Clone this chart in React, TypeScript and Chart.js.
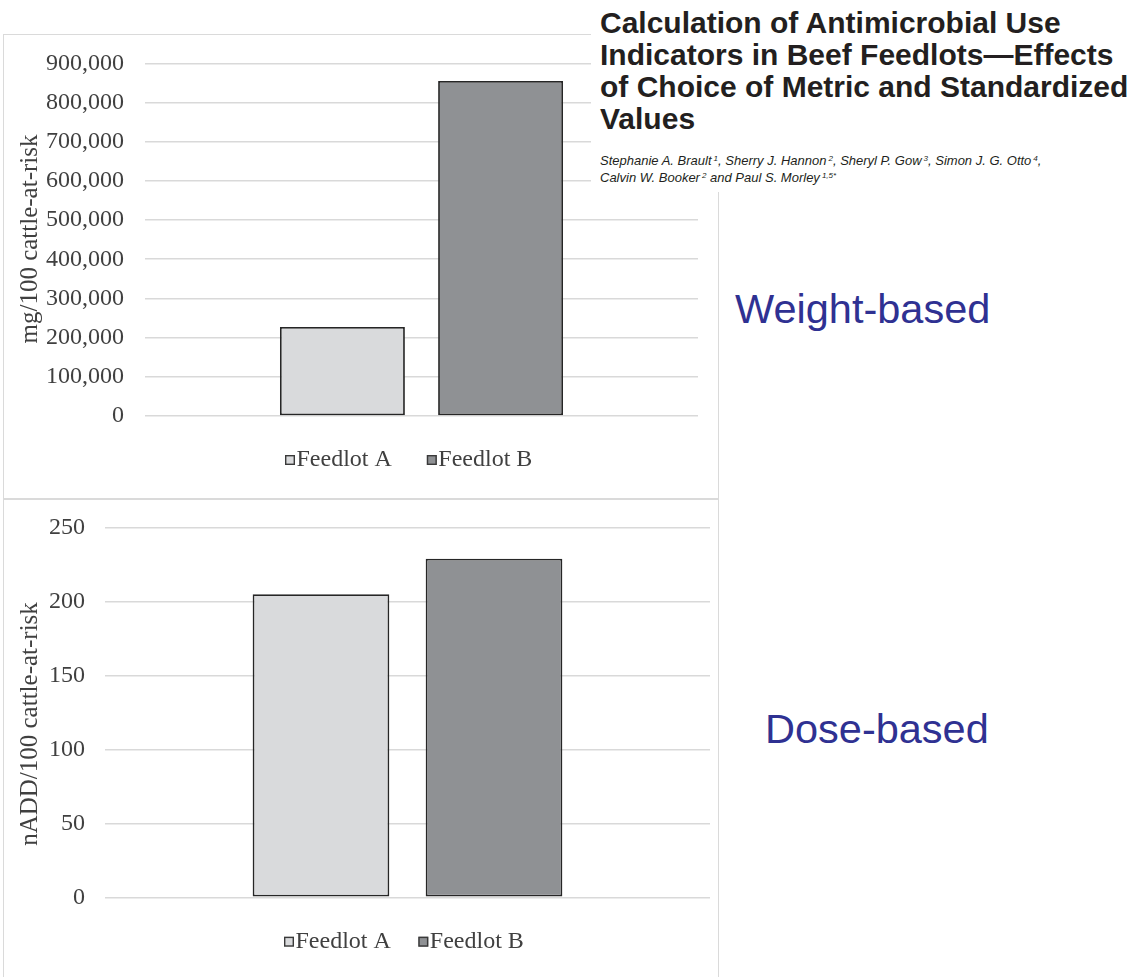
import { useEffect, useRef } from "react";
import { Chart, registerables } from "chart.js";

Chart.register(...registerables);

// ---- data ----
const feedlots = ["Feedlot A", "Feedlot B"];
const weightBasedUse = [227000, 855000]; // mg/100 cattle-at-risk
const doseBasedUse = [205, 229]; // nADD/100 cattle-at-risk
const weightTicks = [0, 100000, 200000, 300000, 400000, 500000, 600000, 700000, 800000, 900000];
const doseTicks = [0, 50, 100, 150, 200, 250];
const barFills = ["#d9dadc", "#8f9194"];

const SERIF = "'Liberation Serif', 'Times New Roman', serif";
const SANS = "'Liberation Sans', Arial, Helvetica, sans-serif";
const INK = "#404040";
const GRID = "#d9d9d9";

// Rotated y-axis caption drawn at a fixed spot on the canvas
const sideTitle = {
  id: "sideTitle",
  afterDraw(chart: any, _args: any, opts: any) {
    if (!opts || !opts.text) return;
    const { ctx } = chart;
    ctx.save();
    ctx.translate(opts.x, opts.y);
    ctx.rotate(-Math.PI / 2);
    ctx.font = `${opts.size}px ${SERIF}`;
    ctx.fillStyle = INK;
    ctx.textAlign = "center";
    ctx.textBaseline = "alphabetic";
    ctx.fillText(opts.text, 0, 0);
    ctx.restore();
  },
};

// Square-swatch legend laid out in a single row
const swatchLegend = {
  id: "swatchLegend",
  afterDraw(chart: any, _args: any, opts: any) {
    if (!opts || opts.x == null) return;
    const { ctx } = chart;
    const box = 10;
    ctx.save();
    ctx.font = `${opts.size}px ${SERIF}`;
    ctx.textBaseline = "middle";
    ctx.textAlign = "left";
    let x = opts.x;
    chart.data.datasets.forEach((ds: any) => {
      ctx.fillStyle = ds.backgroundColor;
      ctx.fillRect(x, opts.y - box / 2, box, box);
      ctx.strokeStyle = "#3a3a3a";
      ctx.lineWidth = 1.4;
      ctx.strokeRect(x + 0.7, opts.y - box / 2 + 0.7, box - 1.4, box - 1.4);
      ctx.fillStyle = INK;
      ctx.fillText(ds.label, x + box + 1.5, opts.y);
      x += box + 1.5 + ctx.measureText(ds.label).width + opts.gap;
    });
    ctx.restore();
  },
};

type PanelSpec = {
  values: number[];
  ticks: number[];
  title: string;
  titleX: number;
  titleY: number;
  axisWidth: number;
  tickGap: number;
  padding: { left: number; right: number; top: number; bottom: number };
  legendX: number;
  legendY: number;
  legendGap: number;
};

function buildChart(canvas: HTMLCanvasElement, spec: PanelSpec) {
  const ticks = spec.ticks;
  return new Chart(canvas, {
    type: "bar",
    data: {
      labels: [""],
      datasets: feedlots.map((name, i) => ({
        label: name,
        data: [spec.values[i]],
        backgroundColor: barFills[i],
        borderColor: "#262626",
        borderWidth: 1.8,
        borderSkipped: false,
        categoryPercentage: 0.572,
        barPercentage: 0.79,
      })),
    },
    options: {
      responsive: false,
      animation: false,
      events: [],
      layout: { padding: spec.padding },
      scales: {
        x: { display: false },
        y: {
          min: ticks[0],
          max: ticks[ticks.length - 1],
          afterBuildTicks: (scale: any) => {
            scale.ticks = ticks.map((v) => ({ value: v }));
          },
          afterFit: (scale: any) => {
            scale.width = spec.axisWidth;
          },
          ticks: {
            padding: 0,
            color: INK,
            font: { family: SERIF, size: 24 },
            callback: (v: any) => Number(v).toLocaleString("en-US"),
          },
          grid: {
            color: GRID,
            lineWidth: 1.6,
            drawTicks: true,
            tickLength: spec.tickGap,
            tickColor: "rgba(0,0,0,0)",
          },
          border: { display: false },
        },
      },
      plugins: {
        legend: { display: false },
        tooltip: { enabled: false },
        sideTitle: { text: spec.title, x: spec.titleX, y: spec.titleY, size: 25 },
        swatchLegend: { x: spec.legendX, y: spec.legendY, gap: spec.legendGap, size: 24 },
      } as any,
    },
    plugins: [sideTitle, swatchLegend],
  } as any);
}

export default function App() {
  const weightRef = useRef<HTMLCanvasElement>(null);
  const doseRef = useRef<HTMLCanvasElement>(null);

  useEffect(() => {
    const top = buildChart(weightRef.current!, {
      values: weightBasedUse,
      ticks: weightTicks,
      title: "mg/100 cattle-at-risk",
      titleX: 37,
      titleY: 205,
      axisWidth: 145,
      tickGap: 21,
      padding: { left: 0, right: 22, top: 29.3, bottom: 84 },
      legendX: 285,
      legendY: 426,
      legendGap: 35,
    });
    const bottom = buildChart(doseRef.current!, {
      values: doseBasedUse,
      ticks: doseTicks,
      title: "nADD/100 cattle-at-risk",
      titleX: 37,
      titleY: 225,
      axisWidth: 105,
      tickGap: 20,
      padding: { left: 0, right: 10, top: 28.7, bottom: 79.7 },
      legendX: 284,
      legendY: 442.7,
      legendGap: 27.5,
    });
    return () => {
      top.destroy();
      bottom.destroy();
    };
  }, []);

  const sup: React.CSSProperties = {
    fontSize: "0.62em",
    position: "relative",
    top: "-0.5em",
    marginLeft: 2,
  };

  return (
    <div
      style={{
        position: "absolute",
        left: 0,
        top: 0,
        width: 1135,
        height: 977,
        overflow: "hidden",
        background: "#fff",
      }}
    >
      <canvas
        ref={weightRef}
        width={720}
        height={466}
        style={{ position: "absolute", left: 0, top: 34, width: 720, height: 466 }}
      />
      <canvas
        ref={doseRef}
        width={720}
        height={478}
        style={{ position: "absolute", left: 0, top: 499, width: 720, height: 478 }}
      />
      {/* panel frames */}
      <div
        style={{
          position: "absolute",
          left: 2.5,
          top: 33.5,
          width: 716.5,
          height: 466,
          border: "1.5px solid #dadada",
          boxSizing: "border-box",
        }}
      />
      <div
        style={{
          position: "absolute",
          left: 2.5,
          top: 498,
          width: 716.5,
          height: 500,
          border: "1.5px solid #dadada",
          boxSizing: "border-box",
        }}
      />
      {/* article heading */}
      <div
        style={{
          position: "absolute",
          left: 591,
          top: 0,
          width: 544,
          height: 192,
          background: "#fff",
        }}
      >
        <div
          style={{
            position: "absolute",
            left: 9,
            top: 6.6,
            fontFamily: SANS,
            fontWeight: "bold",
            fontSize: 30,
            lineHeight: "32px",
            color: "#231f20",
            whiteSpace: "nowrap",
          }}
        >
          Calculation of Antimicrobial Use
          <br />
          Indicators in Beef Feedlots—Effects
          <br />
          of Choice of Metric and Standardized
          <br />
          Values
        </div>
        <div
          style={{
            position: "absolute",
            left: 9,
            top: 154.3,
            fontFamily: SANS,
            fontStyle: "italic",
            fontSize: 13,
            lineHeight: "14.5px",
            color: "#231f20",
            whiteSpace: "nowrap",
          }}
        >
          Stephanie A. Brault<span style={sup}>1</span>, Sherry J. Hannon<span style={sup}>2</span>, Sheryl P. Gow
          <span style={sup}>3</span>, Simon J. G. Otto<span style={sup}>4</span>,
          <br />
          Calvin W. Booker<span style={sup}>2</span> and Paul S. Morley<span style={sup}>1,5*</span>
        </div>
      </div>
      {/* panel labels */}
      <div
        style={{
          position: "absolute",
          left: 735,
          top: 288,
          fontFamily: SANS,
          fontSize: 41.5,
          lineHeight: "41.5px",
          color: "#2f3192",
          whiteSpace: "nowrap",
        }}
      >
        Weight-based
      </div>
      <div
        style={{
          position: "absolute",
          left: 765,
          top: 708,
          fontFamily: SANS,
          fontSize: 41.5,
          lineHeight: "41.5px",
          color: "#2f3192",
          whiteSpace: "nowrap",
        }}
      >
        Dose-based
      </div>
    </div>
  );
}
